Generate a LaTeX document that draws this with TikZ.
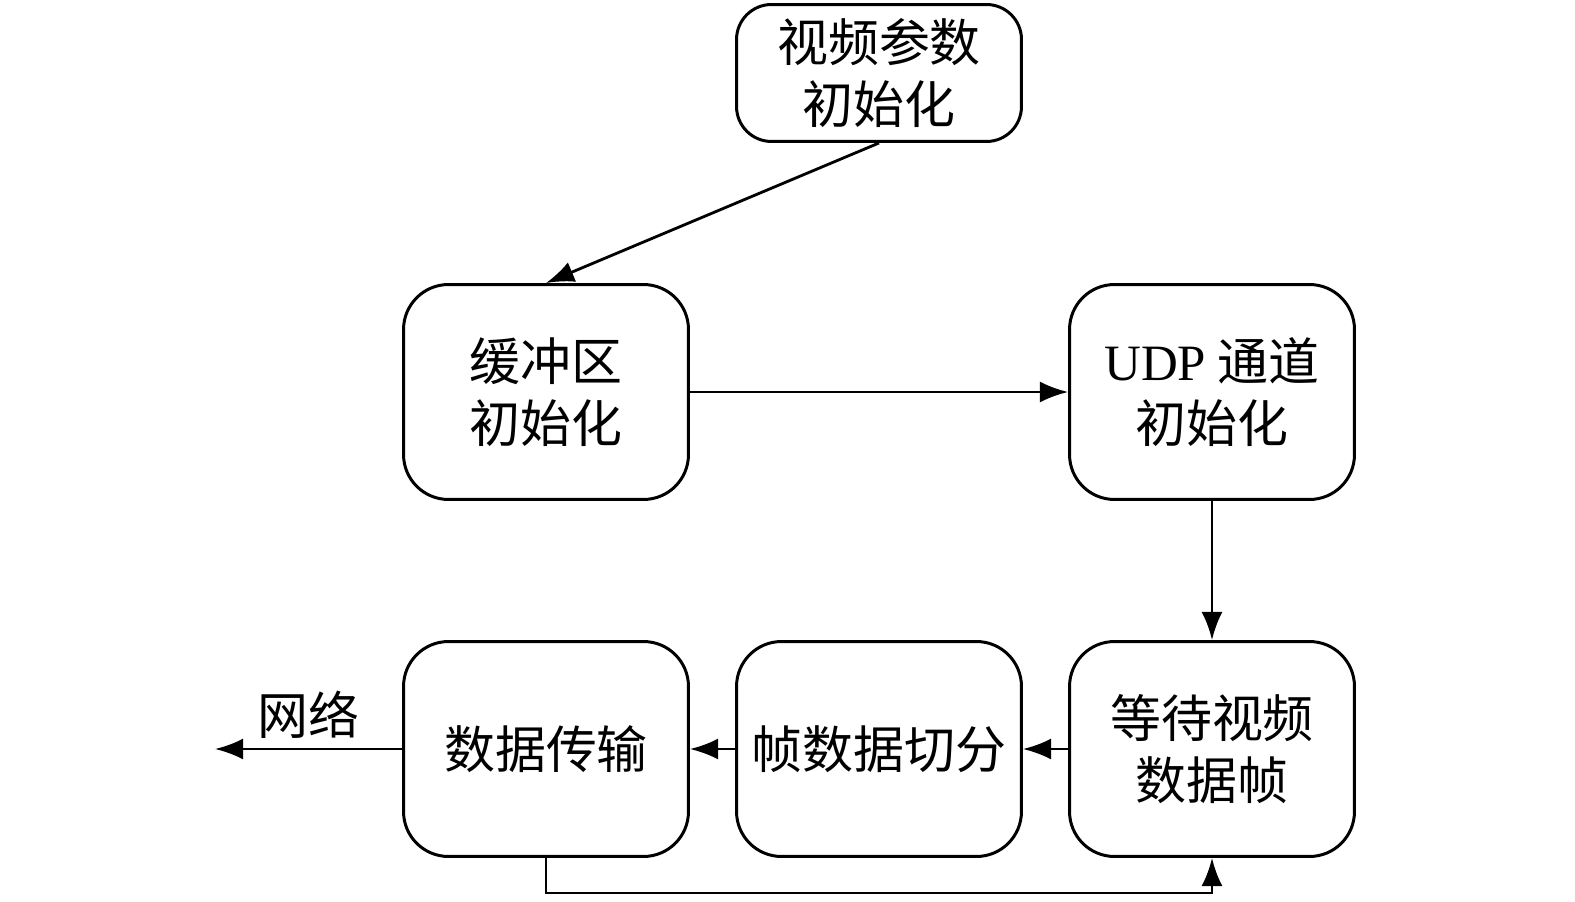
\documentclass[tikz,border=0pt]{standalone}
\usepackage{fontspec}
\setmainfont{Liberation Serif}
\newfontfamily\cjk{Noto Sans CJK SC}
\usetikzlibrary{arrows.meta}

\tikzset{
  stage/.style={draw, line width=1.7pt, rounded corners=0.9cm, align=center,
    minimum width=5.7cm, minimum height=4.3cm, font=\cjk\fontsize{29}{35}\selectfont},
  flow/.style={-{Latex[length=16pt,width=12pt]}, line width=1.6pt}
}

\begin{document}
\begin{tikzpicture}[x=0.02cm,y=-0.02cm]
\useasboundingbox (0,0) rectangle (1575,902);
\node[stage, rounded corners=0.7cm, minimum height=2.74cm] (param) at (879,73) {视频参数\\初始化};
\node[stage] (buf) at (546,392) {缓冲区\\初始化};
\node[stage] (udp) at (1212,392) {{\rmfamily UDP} 通道\\初始化};
\node[stage] (wait) at (1212,749) {等待视频\\数据帧};
\node[stage] (split) at (879,749) {帧数据切分};
\node[stage] (tx) at (546,749) {数据传输};
\coordinate (net) at (215,749);

\draw[flow] (param.south) -- (buf.north);
\draw[flow] (buf) -- (udp);
\draw[flow] (udp) -- (wait);
\draw[flow] (wait) -- (split);
\draw[flow] (split) -- (tx);
\draw[flow] (tx) -- (net) node[midway,above=2pt,font=\cjk\fontsize{29}{35}\selectfont] {网络};
\draw[flow] (tx.south) -- ++(0,35) -| (wait.south);
\end{tikzpicture}
\end{document}
